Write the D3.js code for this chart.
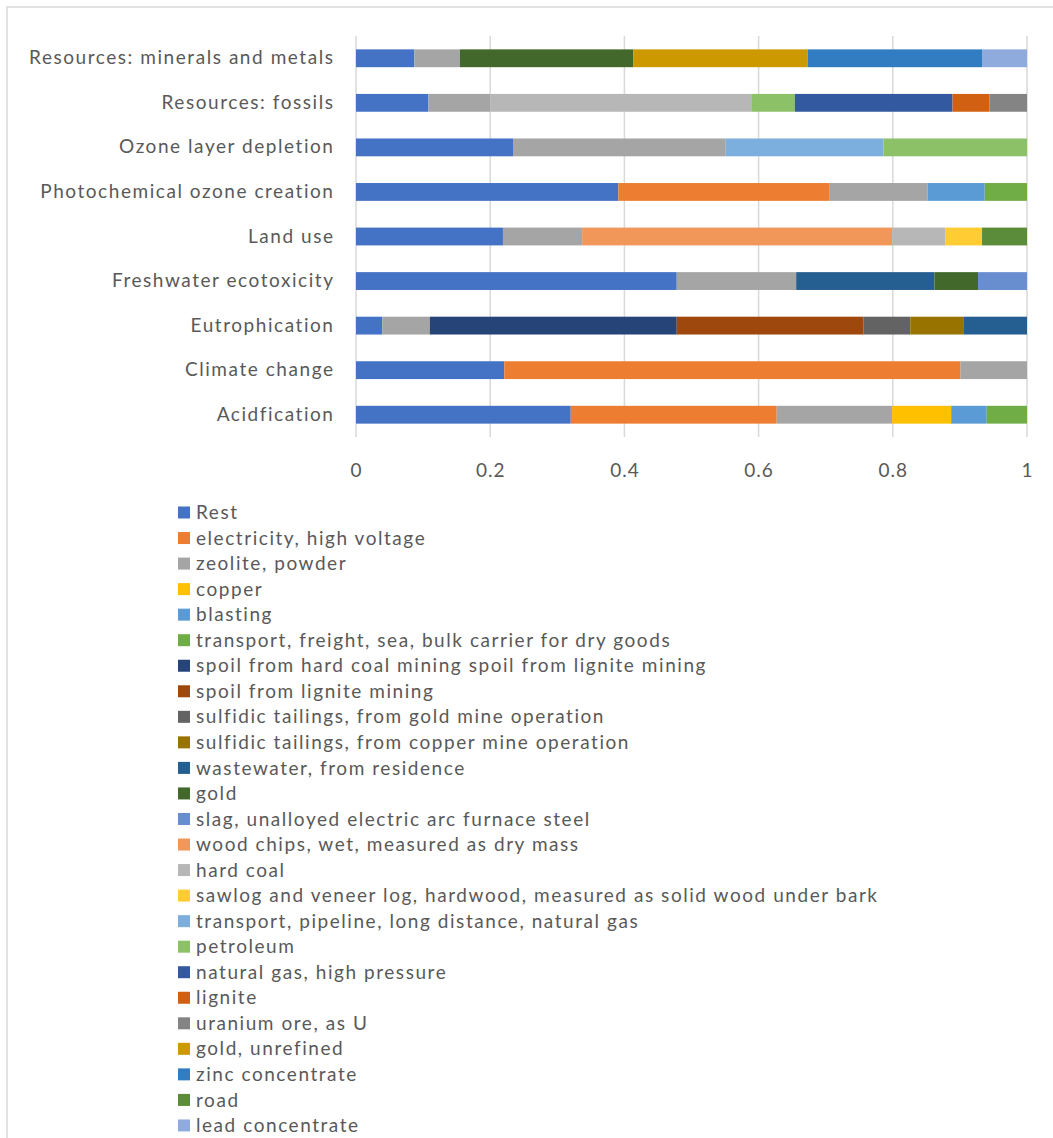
<!DOCTYPE html>
<html>
<head>
<meta charset="utf-8">
<script src="https://cdn.jsdelivr.net/npm/d3@7/dist/d3.min.js"></script>
<style>
  html, body { margin: 0; padding: 0; background: #fff; }
  svg { display: block; }
  text { font-family: Lato, "Open Sans", sans-serif; fill: #595959; }
</style>
</head>
<body>
<svg id="chart" width="1053" height="1138"></svg>
<script>
// Impact categories, listed top to bottom
const categories = [
  "Resources: minerals and metals",
  "Resources: fossils",
  "Ozone layer depletion",
  "Photochemical ozone creation",
  "Land use",
  "Freshwater ecotoxicity",
  "Eutrophication",
  "Climate change",
  "Acidfication"
];

// Contributing processes, in stacking (and legend) order
const seriesNames = [
  "Rest",
  "electricity, high voltage",
  "zeolite, powder",
  "copper",
  "blasting",
  "transport, freight, sea, bulk carrier for dry goods",
  "spoil from hard coal mining spoil from lignite mining",
  "spoil from lignite mining",
  "sulfidic tailings, from gold mine operation",
  "sulfidic tailings, from copper mine operation",
  "wastewater, from residence",
  "gold",
  "slag, unalloyed electric arc furnace steel",
  "wood chips, wet, measured as dry mass",
  "hard coal",
  "sawlog and veneer log, hardwood, measured as solid wood under bark",
  "transport, pipeline, long distance, natural gas",
  "petroleum",
  "natural gas, high pressure",
  "lignite",
  "uranium ore, as U",
  "gold, unrefined",
  "zinc concentrate",
  "road",
  "lead concentrate"
];

const seriesColors = [
  "#4472C4", "#ED7D31", "#A5A5A5", "#FFC000", "#5B9BD5", "#70AD47",
  "#264478", "#9E480E", "#636363", "#997300", "#255E91", "#43682B",
  "#698ED0", "#F1975A", "#B7B7B7", "#FFCD33", "#7CAFDD", "#8CC168",
  "#335AA1", "#D26012", "#848484", "#CC9A00", "#327DC2", "#5B8C3A",
  "#8FAADC"
];

// Relative contributions; one row per process, one column per category
// (columns follow the order of `categories`)
const shares = [
  [0.087, 0.108, 0.234, 0.391, 0.219, 0.478, 0.039, 0.221, 0.320], // Rest
  [0,     0,     0,     0.315, 0,     0,     0,     0.680, 0.307], // electricity
  [0.068, 0.092, 0.317, 0.146, 0.118, 0.178, 0.071, 0.099, 0.172], // zeolite
  [0,     0,     0,     0,     0,     0,     0,     0,     0.088], // copper
  [0,     0,     0,     0.085, 0,     0,     0,     0,     0.053], // blasting
  [0,     0,     0,     0.063, 0,     0,     0,     0,     0.060], // sea freight
  [0,     0,     0,     0,     0,     0,     0.368, 0,     0    ], // spoil hard coal
  [0,     0,     0,     0,     0,     0,     0.278, 0,     0    ], // spoil lignite
  [0,     0,     0,     0,     0,     0,     0.070, 0,     0    ], // tailings gold
  [0,     0,     0,     0,     0,     0,     0.080, 0,     0    ], // tailings copper
  [0,     0,     0,     0,     0,     0.206, 0.094, 0,     0    ], // wastewater
  [0.258, 0,     0,     0,     0,     0.065, 0,     0,     0    ], // gold
  [0,     0,     0,     0,     0,     0.073, 0,     0,     0    ], // slag
  [0,     0,     0,     0,     0.462, 0,     0,     0,     0    ], // wood chips
  [0,     0.389, 0,     0,     0.079, 0,     0,     0,     0    ], // hard coal
  [0,     0,     0,     0,     0.055, 0,     0,     0,     0    ], // sawlog
  [0,     0,     0.235, 0,     0,     0,     0,     0,     0    ], // pipeline
  [0,     0.065, 0.214, 0,     0,     0,     0,     0,     0    ], // petroleum
  [0,     0.235, 0,     0,     0,     0,     0,     0,     0    ], // natural gas
  [0,     0.055, 0,     0,     0,     0,     0,     0,     0    ], // lignite
  [0,     0.056, 0,     0,     0,     0,     0,     0,     0    ], // uranium
  [0.260, 0,     0,     0,     0,     0,     0,     0,     0    ], // gold, unrefined
  [0.260, 0,     0,     0,     0,     0,     0,     0,     0    ], // zinc
  [0,     0,     0,     0,     0.067, 0,     0,     0,     0    ], // road
  [0.067, 0,     0,     0,     0,     0,     0,     0,     0    ]  // lead
];

const xTicks = [0, 0.2, 0.4, 0.6, 0.8, 1];

// ---- build table for d3.stack ----
const rows = categories.map((c, j) => {
  const r = { category: c };
  seriesNames.forEach((s, i) => { r[s] = shares[i][j]; });
  return r;
});
const stacked = d3.stack().keys(seriesNames)(rows);

const svg = d3.select("#chart");
const plot = { left: 356, right: 1027, top: 36, bottom: 437 };
const fontSize = 19;
const spacing = "1.55px";

// outer frame (only the top and left edges fall inside the page)
svg.append("rect")
  .attr("x", 7).attr("y", 7)
  .attr("width", 1200).attr("height", 1300)
  .attr("fill", "none").attr("stroke", "#D9D9D9").attr("stroke-width", 1.5);

const x = d3.scaleLinear().domain([0, 1]).range([plot.left, plot.right]);
const y = d3.scaleBand().domain(categories)
  .range([plot.top, plot.bottom]).paddingInner(0.6).paddingOuter(0.3);
const color = d3.scaleOrdinal().domain(seriesNames).range(seriesColors);

// vertical gridlines
svg.append("g").selectAll("line").data(xTicks).join("line")
  .attr("x1", d => x(d)).attr("x2", d => x(d))
  .attr("y1", plot.top).attr("y2", plot.bottom)
  .attr("stroke", "#D9D9D9").attr("stroke-width", 1.5);

// stacked bars
svg.append("g").selectAll("g").data(stacked).join("g")
  .attr("fill", d => color(d.key))
  .selectAll("rect").data(d => d.filter(p => p[1] - p[0] > 0)).join("rect")
  .attr("x", p => x(p[0]))
  .attr("width", p => x(p[1]) - x(p[0]))
  .attr("y", p => y(p.data.category))
  .attr("height", y.bandwidth());

// x axis labels
const xAxis = d3.axisBottom(x).tickValues(xTicks).tickSize(0).tickPadding(0)
  .tickFormat(d3.format("~g"));
svg.append("g")
  .attr("transform", `translate(0,${plot.bottom + 27})`)
  .call(xAxis)
  .call(g => g.select(".domain").remove())
  .call(g => g.selectAll("text")
    .attr("dy", "0.32em").attr("y", 7)
    .style("font-family", "Lato, 'Open Sans', sans-serif")
    .style("font-size", fontSize + "px")
    .style("letter-spacing", "1px")
    .attr("fill", "#595959"));

// category labels
const yAxis = d3.axisLeft(y).tickSize(0).tickPadding(0);
svg.append("g")
  .attr("transform", `translate(${plot.left - 21.5},0)`)
  .call(yAxis)
  .call(g => g.select(".domain").remove())
  .call(g => g.selectAll("text")
    .style("font-family", "Lato, 'Open Sans', sans-serif")
    .style("font-size", fontSize + "px")
    .style("letter-spacing", spacing)
    .attr("fill", "#595959"));

// legend
const legend = svg.append("g").attr("transform", "translate(178,512.5)");
const item = legend.selectAll("g").data(seriesNames).join("g")
  .attr("transform", (d, i) => `translate(0,${i * 25.54})`);
item.append("rect")
  .attr("x", 0).attr("y", -6).attr("width", 12).attr("height", 12)
  .attr("fill", d => color(d));
item.append("text")
  .attr("x", 18).attr("dy", "0.35em")
  .style("font-size", fontSize + "px")
  .style("letter-spacing", spacing)
  .text(d => d);
</script>
</body>
</html>
